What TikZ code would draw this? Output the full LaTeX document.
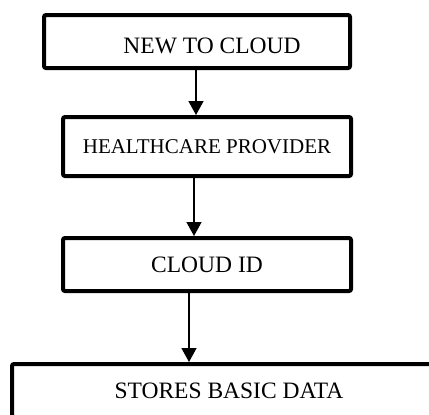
\documentclass[tikz,border=0pt]{standalone}
\usepackage{fontspec}
\setmainfont{Liberation Serif}
\usetikzlibrary{arrows.meta}
\tikzset{
    flow-box/.style = {draw=black, fill=white, line width=2pt, rectangle, rounded corners=1pt, inner sep=0pt, minimum height=26.5pt, font=\fontsize{11.75}{14}\selectfont},
    flow-arrow/.style = {draw=black, line width=0.75pt, -{Triangle[width=7.5pt,length=7pt]}},
}

\begin{document}
\begin{tikzpicture}[x=0.5pt,y=-0.5pt]
\useasboundingbox (0,0) rectangle (429,414);
\clip (0,0) rectangle (429,414);
\node [flow-box, minimum width=153pt, text height=12.3pt] (new) at (197,41.5) {\hspace*{15pt}NEW TO CLOUD};
\node [flow-box, minimum width=144pt, minimum height=29.5pt, font=\fontsize{10.5}{12}\selectfont] (provider) at (207,146.5) {HEALTHCARE PROVIDER};
\node [flow-box, minimum width=144pt] (cloudid) at (207,264.5) {CLOUD ID};
\node [flow-box, minimum width=217pt] (stores) at (229,390.5) {STORES BASIC DATA};
\draw [flow-arrow] ([xshift=-0.5pt]new.south) -- ([xshift=-0.5pt]new.south |- provider.north);
\draw [flow-arrow] ([xshift=-6.5pt]provider.south) -- ([xshift=-6.5pt]provider.south |- cloudid.north);
\draw [flow-arrow] ([xshift=-9pt]cloudid.south) -- ([xshift=-9pt]cloudid.south |- stores.north);
\end{tikzpicture}
\end{document}
